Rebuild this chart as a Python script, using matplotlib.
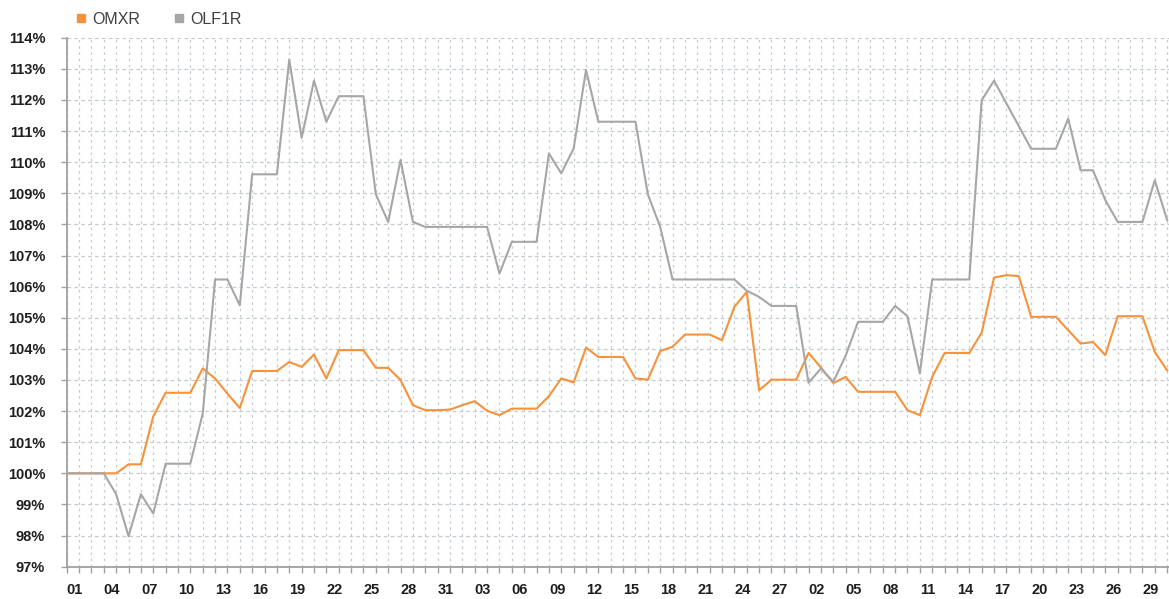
import numpy as np
import matplotlib.pyplot as plt
from matplotlib.ticker import FixedLocator, FuncFormatter

# Data (daily, 01 Jan - 31 Mar), index value in %

day_labels = ["01", "04", "07", "10", "13", "16", "19", "22", "25", "28", "31",
              "03", "06", "09", "12", "15", "18", "21", "24", "27",
              "02", "05", "08", "11", "14", "17", "20", "23", "26", "29"]

omxr = [100.0, 100.0, 100.0, 100.0, 100.0, 100.29, 100.29, 101.83, 102.59, 102.59,
        102.59, 103.37, 103.05, 102.56, 102.10, 103.29, 103.29, 103.29, 103.58, 103.42,
        103.82, 103.05, 103.96, 103.96, 103.96, 103.39, 103.39, 103.00, 102.19, 102.03,
        102.03, 102.05, 102.19, 102.32, 102.01, 101.87, 102.08, 102.08, 102.08, 102.48,
        103.05, 102.92, 104.04, 103.74, 103.74, 103.74, 103.05, 103.01, 103.93, 104.07,
        104.46, 104.46, 104.46, 104.28, 105.35, 105.83, 102.67, 103.01, 103.01, 103.01,
        103.87, 103.40, 102.90, 103.10, 102.62, 102.62, 102.62, 102.62, 102.03, 101.87,
        103.10, 103.87, 103.87, 103.87, 104.52, 106.29, 106.37, 106.34, 105.03, 105.03,
        105.03, 104.60, 104.17, 104.22, 103.80, 105.05, 105.05, 105.05, 103.90, 103.31]

olf1r = [100.0, 100.0, 100.0, 100.0, 99.33, 97.98, 99.33, 98.71, 100.31, 100.31,
         100.31, 101.92, 106.23, 106.23, 105.40, 109.61, 109.61, 109.61, 113.30, 110.78,
         112.62, 111.30, 112.12, 112.12, 112.12, 108.97, 108.08, 110.07, 108.08, 107.92,
         107.92, 107.92, 107.92, 107.92, 107.92, 106.42, 107.44, 107.44, 107.44, 110.28,
         109.64, 110.44, 112.96, 111.30, 111.30, 111.30, 111.30, 108.97, 107.92, 106.23,
         106.23, 106.23, 106.23, 106.23, 106.23, 105.87, 105.67, 105.38, 105.38, 105.38,
         102.91, 103.37, 102.94, 103.78, 104.87, 104.87, 104.87, 105.38, 105.05, 103.21,
         106.23, 106.23, 106.23, 106.23, 111.99, 112.62, 111.89, 111.16, 110.43, 110.43,
         110.43, 111.40, 109.74, 109.74, 108.78, 108.08, 108.08, 108.08, 109.42, 108.14]

x = np.arange(len(omxr))

# Figure

fig = plt.figure(figsize=(11.69, 5.99), dpi=100)
ax = fig.add_axes([66.7 / 1169, 1 - 566.7 / 599, 1 - 66.7 / 1169, (566.7 - 37.7) / 599])

grid_col = '#c3cad2'
ax.plot(x, omxr, color='#f7923a', lw=1.5, label='OMXR', zorder=3)
ax.plot(x, olf1r, color='#a6a6a6', lw=1.5, label='OLF1R', zorder=3)

ax.set_xlim(0, 89.15)
ax.set_ylim(97, 114)

# y axis
ax.yaxis.set_major_locator(FixedLocator(np.arange(97, 115)))
ax.yaxis.set_major_formatter(FuncFormatter(lambda v, p: f"{v:.0f}%"))
ax.grid(axis='y', color=grid_col, ls=(0, (3, 2.5)), lw=0.9)

# x axis: tick at every day, label every third day
ax.xaxis.set_major_locator(FixedLocator(np.arange(0, len(x), 3)))
ax.xaxis.set_minor_locator(FixedLocator(np.arange(len(x))))
ax.set_xticklabels(day_labels, ha='left')
ax.grid(axis='x', which='both', color=grid_col, ls=(0, (2, 3)), lw=0.9)

for side in ['top', 'right']:
    ax.spines[side].set_visible(False)
for side in ['left', 'bottom']:
    ax.spines[side].set_color('#a0a0a0')
    ax.spines[side].set_linewidth(1.3)

ax.tick_params(axis='y', length=4.5, width=1, color='#a0a0a0', pad=11,
               labelsize=10.5, labelcolor='#1e1e1e')
ax.tick_params(axis='x', which='both', length=4, width=1, color='#a0a0a0', pad=8,
               labelsize=10.5, labelcolor='#1e1e1e')
for lbl in ax.get_xticklabels() + ax.get_yticklabels():
    lbl.set_fontweight('bold')
    lbl.set_fontfamily('Liberation Sans')

# Legend
h1, = ax.plot([], [], 's', color='#f7923a', ms=6)
h2, = ax.plot([], [], 's', color='#a6a6a6', ms=6)
fig.legend([h1, h2], ['OMXR', 'OLF1R'], loc='center left',
           bbox_to_anchor=(67 / 1169, 1 - 19 / 599), ncol=2, frameon=False,
           handlelength=0.8, handletextpad=0.3, columnspacing=2.0, borderpad=0,
           prop={'family': 'Liberation Sans', 'size': 11.5}, labelcolor='#404040')

fig.savefig('out.png', dpi=100)
